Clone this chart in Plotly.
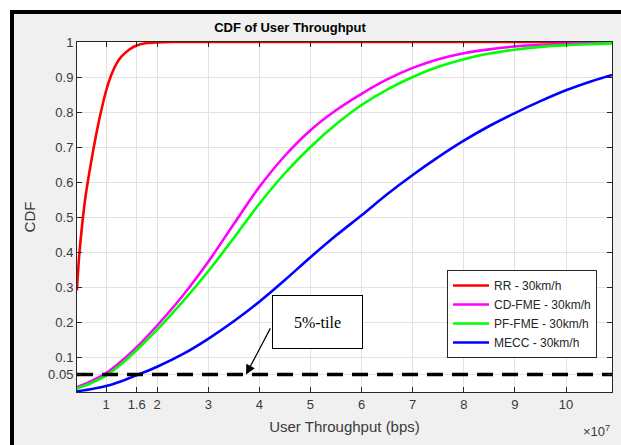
import plotly.graph_objects as go

# ---------------- data (throughput in units of 1e7 bps) ----------------
rr_x = [0.43, 0.47, 0.52, 0.60, 0.70, 0.80, 0.90, 1.0, 1.1, 1.2, 1.3, 1.45, 1.6, 1.8, 2.0, 2.3,
        3.0, 4.0, 6.0, 8.0, 10.0, 10.9]
rr_y = [0.29, 0.38, 0.46, 0.56, 0.65, 0.73, 0.80, 0.86, 0.905, 0.937, 0.958, 0.978, 0.99, 0.997, 0.999, 1.0,
        1.0, 1.0, 1.0, 1.0, 1.0, 1.0]

grid_x = [0.43, 0.7, 1.0, 1.3, 1.6, 2.0, 2.5, 3.0, 3.5, 4.0, 4.5, 5.0, 5.5, 6.0,
          6.5, 7.0, 7.5, 8.0, 8.5, 9.0, 9.5, 10.0, 10.5, 10.9]
cd_fme_y = [0.014, 0.03, 0.054, 0.088, 0.128, 0.19, 0.275, 0.372, 0.48, 0.586, 0.675, 0.748, 0.805, 0.852,
            0.893, 0.926, 0.951, 0.968, 0.979, 0.987, 0.992, 0.995, 0.997, 0.998]
pf_fme_y = [0.01, 0.025, 0.047, 0.08, 0.12, 0.178, 0.258, 0.345, 0.44, 0.538, 0.625, 0.70, 0.765, 0.82,
            0.864, 0.90, 0.929, 0.951, 0.967, 0.978, 0.986, 0.991, 0.994, 0.996]
mecc_y = [0.002, 0.008, 0.017, 0.031, 0.048, 0.072, 0.108, 0.152, 0.202, 0.258, 0.32, 0.385, 0.447, 0.505,
          0.565, 0.62, 0.671, 0.718, 0.76, 0.797, 0.831, 0.862, 0.888, 0.906]

series_names = ["RR - 30km/h", "CD-FME - 30km/h", "PF-FME - 30km/h", "MECC - 30km/h"]
series_colors = ["#ff0000", "#ff00ff", "#00ff00", "#0000ff"]

x_tick_vals = [1, 1.6, 2, 3, 4, 5, 6, 7, 8, 9, 10]
x_tick_text = ["1", "1.6", "2", "3", "4", "5", "6", "7", "8", "9", "10"]
y_tick_vals = [0.05, 0.1, 0.2, 0.3, 0.4, 0.5, 0.6, 0.7, 0.8, 0.9, 1.0]
y_tick_text = ["0.05", "0.1", "0.2", "0.3", "0.4", "0.5", "0.6", "0.7", "0.8", "0.9", "1"]

percentile_level = 0.05
x_scale = 1e7
x_range = [0.432, 10.9]

# ---------------- figure ----------------
W, H = 621, 445
L, R, T, B = 77, 9, 42, 53
PW, PH = W - L - R, H - T - B


def px2x(px):
    return (px - L) / PW


def py2y(py):
    return (H - B - py) / PH


fig = go.Figure()

xs = [[v * x_scale for v in rr_x]] + [[v * x_scale for v in grid_x]] * 3
ys = [rr_y, cd_fme_y, pf_fme_y, mecc_y]
for name, color, x, y in zip(series_names, series_colors, xs, ys):
    fig.add_trace(go.Scatter(x=x, y=y, mode="lines", name=name,
                             line=dict(color=color, width=2.6, shape="spline", smoothing=0.8)))

fig.add_trace(go.Scatter(x=[x_range[0] * x_scale, x_range[1] * x_scale],
                         y=[percentile_level, percentile_level], mode="lines",
                         line=dict(color="black", width=3.5, dash="16px,9px"),
                         showlegend=False, hoverinfo="skip"))

axis_common = dict(showline=True, linecolor="#262626", linewidth=1, mirror="allticks",
                   ticks="inside", ticklen=5, tickcolor="#262626",
                   showgrid=True, gridcolor="#e2e2e2", gridwidth=1, zeroline=False,
                   tickfont=dict(family="Liberation Sans, Arial", size=13, color="#3a3a3a"))

fig.update_xaxes(range=[v * x_scale for v in x_range], tickmode="array",
                 tickvals=[v * x_scale for v in x_tick_vals], ticktext=x_tick_text,
                 title=dict(text="User Throughput (bps)", standoff=10,
                            font=dict(family="Liberation Sans, Arial", size=15, color="#3a3a3a")),
                 **axis_common)
fig.update_yaxes(range=[0, 1], tickmode="array", tickvals=y_tick_vals, ticktext=y_tick_text,
                 title=dict(text="CDF", standoff=8,
                            font=dict(family="Liberation Sans, Arial", size=15, color="#3a3a3a")),
                 **axis_common)

shapes = [
    # white outside of the frame
    dict(type="rect", xref="paper", yref="paper", x0=px2x(0), x1=px2x(10), y0=py2y(0), y1=py2y(H),
         fillcolor="white", line=dict(width=0)),
    dict(type="rect", xref="paper", yref="paper", x0=px2x(0), x1=px2x(W), y0=py2y(0), y1=py2y(10),
         fillcolor="white", line=dict(width=0)),
    # black frame
    dict(type="rect", xref="paper", yref="paper", x0=px2x(10), x1=px2x(14), y0=py2y(10), y1=py2y(H),
         fillcolor="black", line=dict(width=0)),
    dict(type="rect", xref="paper", yref="paper", x0=px2x(10), x1=px2x(W), y0=py2y(10), y1=py2y(14),
         fillcolor="black", line=dict(width=0)),
]

annotations = [
    dict(x=5.13 * x_scale, y=0.2, xref="x", yref="y", text="5%-tile", showarrow=False,
         font=dict(family="Liberation Serif, Times New Roman", size=16, color="black"),
         bgcolor="white", bordercolor="black", borderwidth=1, borderpad=0, width=89, height=52),
    dict(x=3.74 * x_scale, y=percentile_level, xref="x", yref="y", text="",
         showarrow=True, ax=4.23 * x_scale, ay=0.186, axref="x", ayref="y",
         arrowhead=2, arrowsize=1.6, arrowwidth=1.2, arrowcolor="black", standoff=0),
    dict(x=1.0, y=py2y(431), xref="paper", yref="paper", xanchor="right", yanchor="middle",
         text="×10<sup>7</sup>", showarrow=False,
         font=dict(family="Liberation Sans, Arial", size=13, color="#3a3a3a")),
]

fig.update_layout(
    width=W, height=H, margin=dict(l=L, r=R, t=T, b=B),
    paper_bgcolor="#f0f0f0", plot_bgcolor="white",
    title=dict(text="<b>CDF of User Throughput</b>", x=290 / W, y=1 - 27 / H,
               xanchor="center", yanchor="middle",
               font=dict(family="Liberation Sans, Arial", size=13, color="black")),
    legend=dict(x=px2x(597), y=py2y(314), xanchor="right", yanchor="middle",
                bgcolor="white", bordercolor="#262626", borderwidth=1,
                font=dict(family="Liberation Sans, Arial", size=12, color="#262626"),
                tracegroupgap=0, itemwidth=36),
    shapes=shapes, annotations=annotations, showlegend=True,
)

fig.write_html("out.html")
